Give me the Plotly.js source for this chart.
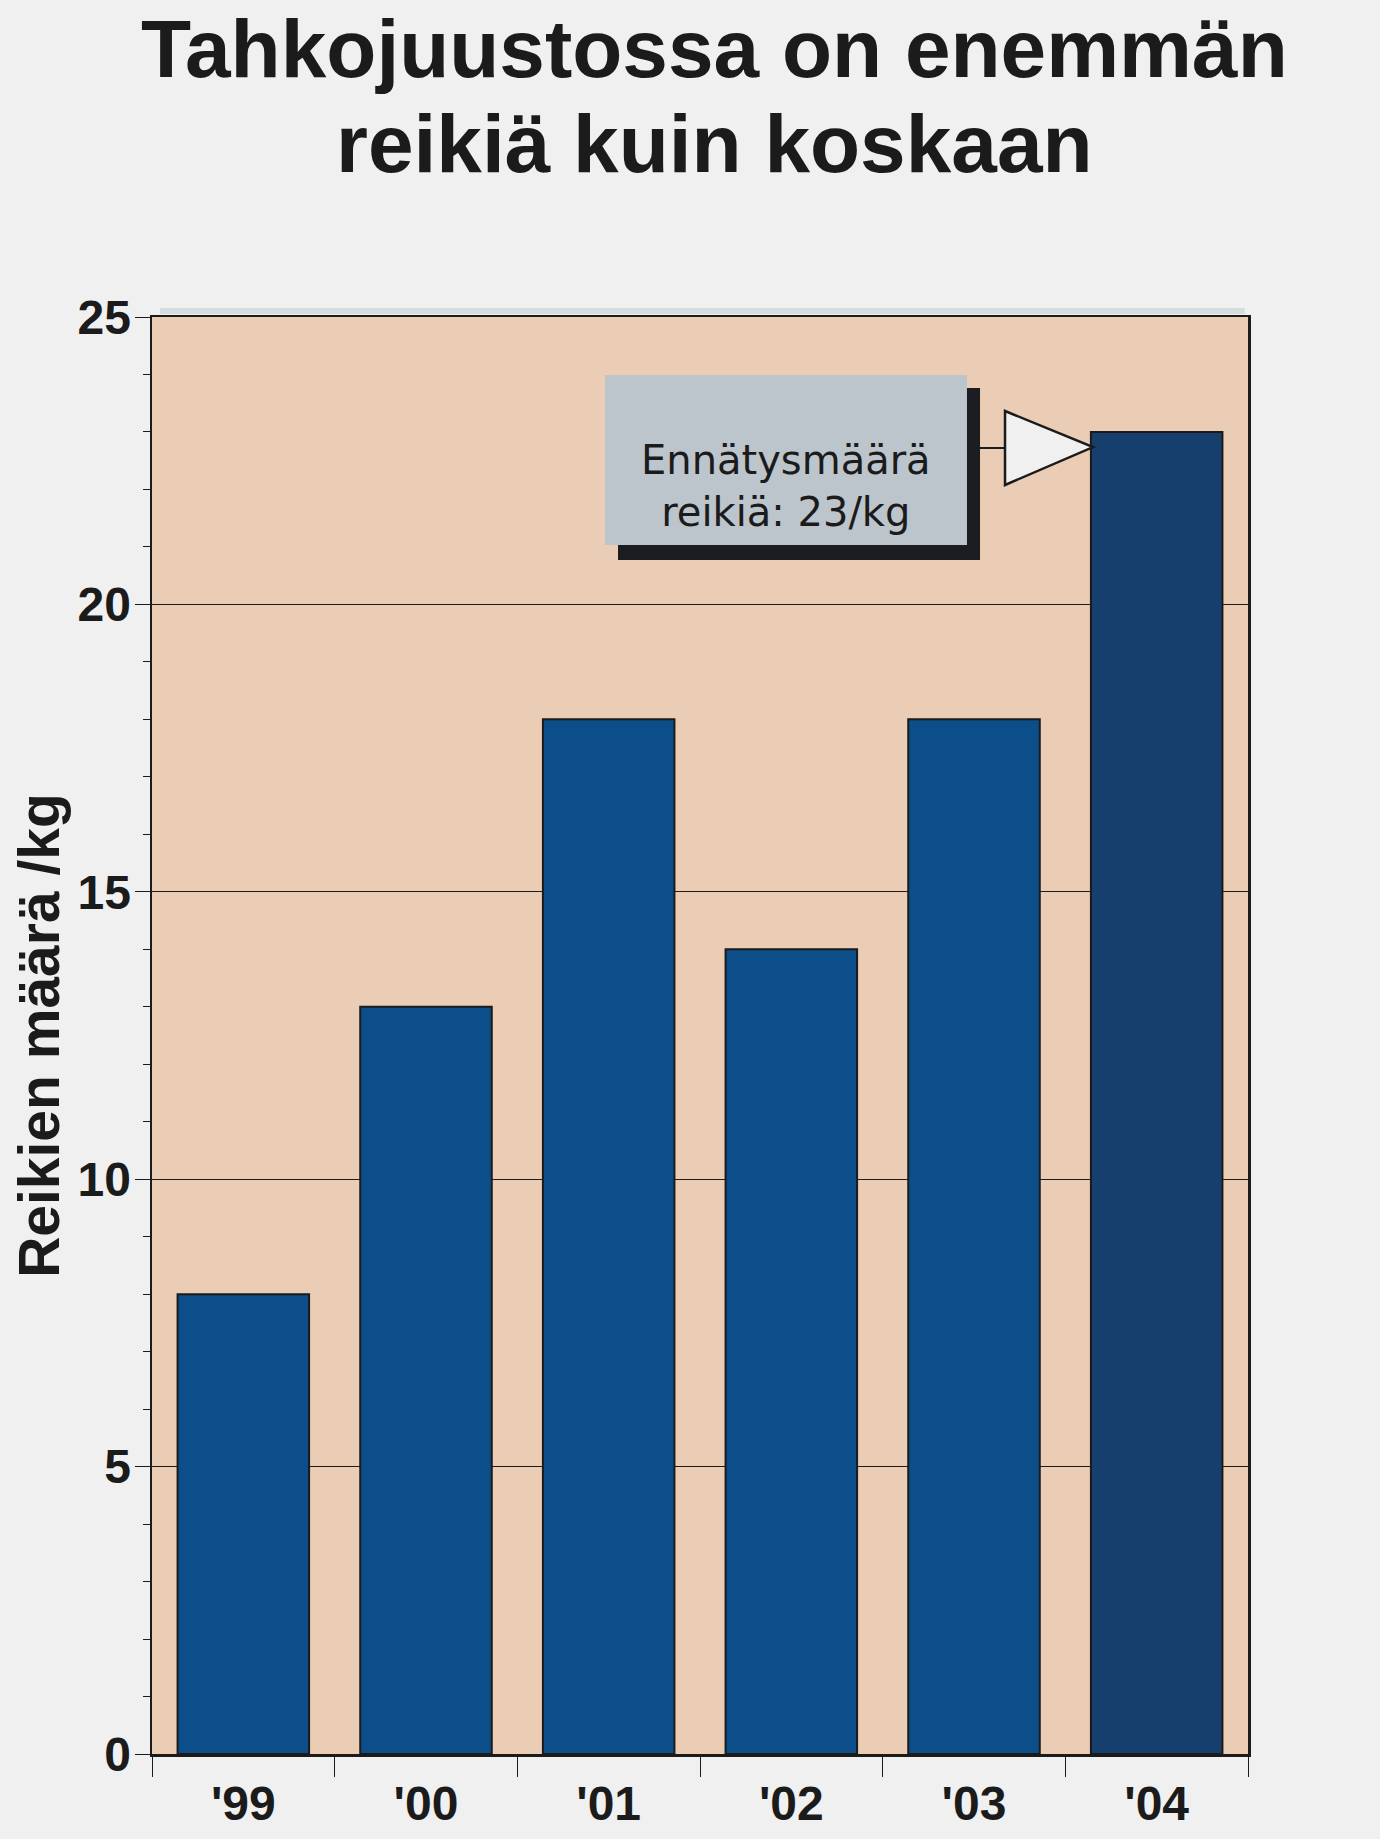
<!DOCTYPE html>
<html>
<head>
<meta charset="utf-8">
<script src="https://cdn.plot.ly/plotly-3.0.1.min.js"></script>
<style>
  html, body { margin: 0; padding: 0; background: #f0f0f0; }
  #chart { width: 1380px; height: 1839px; }
</style>
</head>
<body>
<div id="chart"></div>
<script>
// ---- Data ----
const years = ["'99", "'00", "'01", "'02", "'03", "'04"];
const holesPerKg = [8, 13, 18, 14, 18, 23];
const yTickValues = [0, 5, 10, 15, 20, 25];
const titleLine1 = "Tahkojuustossa on enemmän";
const titleLine2 = "reikiä kuin koskaan";
const yAxisTitle = "Reikien määrä /kg";
const calloutText = "Ennätysmäärä<br>reikiä: 23/kg";

// ---- Styles ----
const barBlue = "#0b4e89";
const barRecord = "#163f6e";
const ink = "#1b1b1b";
const boldFont = { family: "Liberation Sans, Arial, sans-serif", weight: "bold", color: ink };

const recordIndex = holesPerKg.indexOf(Math.max(...holesPerKg));
const barColors = holesPerKg.map((v, i) => i === recordIndex ? barRecord : barBlue);

const trace = {
  type: "bar",
  x: years,
  y: holesPerKg,
  marker: { color: barColors, line: { color: ink, width: 2 } },
  hoverinfo: "x+y"
};

const layout = {
  width: 1380,
  height: 1839,
  paper_bgcolor: "#f0f0f0",
  plot_bgcolor: "#ebcdb5",
  margin: { l: 152, r: 132, t: 317, b: 85 },
  showlegend: false,
  bargap: 0.28,
  xaxis: {
    type: "category",
    showline: true, linecolor: ink, linewidth: 2.5, mirror: true,
    ticks: "outside", tickson: "boundaries", ticklen: 20, tickwidth: 1, tickcolor: ink,
    ticklabelstandoff: 6,
    tickfont: Object.assign({}, boldFont, { size: 48 }),
    showgrid: false, zeroline: false, fixedrange: true
  },
  yaxis: {
    range: [0, 25],
    tickvals: yTickValues,
    showline: true, linecolor: ink, linewidth: 2.5, mirror: true,
    ticks: "outside", ticklen: 15, tickwidth: 1, tickcolor: ink,
    ticklabelstandoff: -6,
    minor: { dtick: 1, ticks: "outside", ticklen: 7, tickwidth: 1, tickcolor: ink, showgrid: false },
    tickfont: Object.assign({}, boldFont, { size: 48 }),
    showgrid: true, gridcolor: ink, gridwidth: 1,
    zeroline: false, fixedrange: true,
    title: { text: yAxisTitle, font: Object.assign({}, boldFont, { size: 57 }), standoff: 0 }
  },
  annotations: [
    { text: titleLine1, xref: "paper", yref: "paper", x: 0.5128, y: 1.1865,
      xanchor: "center", yanchor: "middle", showarrow: false,
      font: Object.assign({}, boldFont, { size: 82 }) },
    { text: titleLine2, xref: "paper", yref: "paper", x: 0.5128, y: 1.1204,
      xanchor: "center", yanchor: "middle", showarrow: false,
      font: Object.assign({}, boldFont, { size: 82 }) },
    { text: calloutText, xref: "paper", yref: "paper", x: 0.5785, y: 0.8824,
      xanchor: "center", yanchor: "middle", showarrow: false,
      font: { family: "DejaVu Sans, sans-serif", size: 40, color: ink } }
  ],
  shapes: [
    // faint strip above the frame
    { type: "rect", xref: "paper", yref: "paper", x0: 0.0073, x1: 0.997, y0: 1.0021, y1: 1.0063,
      fillcolor: "#d3dde0", line: { width: 0 }, layer: "below" },
    // callout shadow
    { type: "rect", xref: "paper", yref: "paper", x0: 0.4252, x1: 0.7555, y0: 0.8309, y1: 0.9506,
      fillcolor: "#1b1d20", line: { width: 0 }, layer: "above" },
    // callout box
    { type: "rect", xref: "paper", yref: "paper", x0: 0.4133, x1: 0.7436, y0: 0.8413, y1: 0.9596,
      fillcolor: "#bcc4cc", line: { width: 0 }, layer: "above" },
    // connector
    { type: "line", xref: "paper", yref: "paper", x0: 0.7436, x1: 0.7783, y0: 0.9088, y1: 0.9088,
      line: { color: ink, width: 2 }, layer: "above" },
    // hollow arrow head
    { type: "path", xref: "paper", yref: "paper",
      path: "M 0.7783 0.9346 L 0.8586 0.9095 L 0.7783 0.8831 Z",
      fillcolor: "#f0f0f0", line: { color: ink, width: 2.5 }, layer: "above" }
  ]
};

Plotly.newPlot("chart", [trace], layout, { displayModeBar: false, staticPlot: true });
</script>
</body>
</html>
